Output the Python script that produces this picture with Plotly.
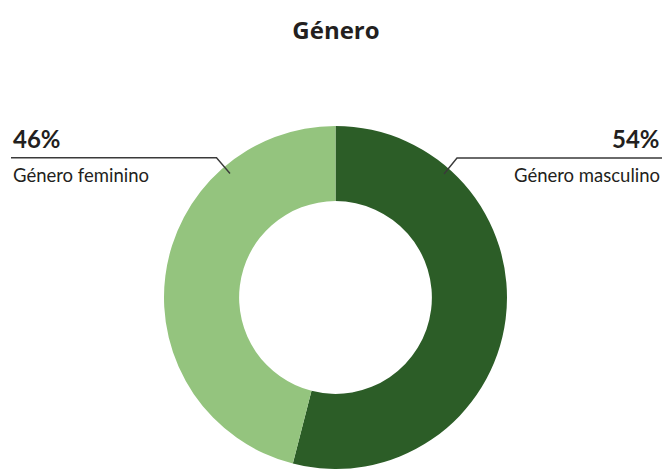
import plotly.graph_objects as go

# Gender split of respondents
categories = ["Género masculino", "Género feminino"]
shares = [54, 46]
colors = ["#2c5d27", "#94c47e"]
title_text = "Género"

W, H = 667, 469


def px(x):
    return x / W


def py(y):
    return (H - y) / H


cx, r = 335.5, 171.5
top = 126

fig = go.Figure(
    go.Pie(
        labels=categories,
        values=shares,
        sort=False,
        direction="clockwise",
        rotation=0,
        hole=0.562,
        marker=dict(colors=colors, line=dict(width=0)),
        textinfo="none",
        hoverinfo="label+percent",
        showlegend=False,
        domain=dict(x=[px(cx - r), px(cx + r)], y=[0, py(top)]),
    )
)

label_font = "Lato, sans-serif"
line_col = "#3a3a3a"

# Leader lines: horizontal rule under the percentage, elbow into the ring
fig.add_shape(type="path", xref="paper", yref="paper",
              path=f"M {px(11)},{py(157.7)} L {px(216.5)},{py(157.7)} L {px(230)},{py(173.5)}",
              line=dict(color=line_col, width=1.4))
fig.add_shape(type="path", xref="paper", yref="paper",
              path=f"M {px(662)},{py(158)} L {px(457)},{py(158)} L {px(444)},{py(174)}",
              line=dict(color=line_col, width=1.4))

# Percentage + category labels for each slice
sides = [
    dict(x=662, anchor="right"),  # masculino on the right
    dict(x=11, anchor="left"),    # feminino on the left
]
for cat, val, side in zip(categories, shares, sides):
    fig.add_annotation(x=px(side["x"]), y=py(138), xref="paper", yref="paper",
                       text=f"<b>{val}%</b>", showarrow=False,
                       xanchor=side["anchor"], yanchor="middle",
                       font=dict(family=label_font, size=24, color="#231f20"))
    fig.add_annotation(x=px(side["x"]), y=py(175), xref="paper", yref="paper",
                       text=cat, showarrow=False,
                       xanchor=side["anchor"], yanchor="middle",
                       font=dict(family=label_font, size=18.5, color="#231f20"))

fig.update_layout(
    width=W, height=H,
    margin=dict(l=0, r=0, t=0, b=0),
    paper_bgcolor="white", plot_bgcolor="white",
    title=dict(text=f"<b>{title_text}</b>", x=px(336), xanchor="center",
               y=py(31), yanchor="middle",
               font=dict(family="Open Sans, sans-serif", size=24, color="#231f20")),
)

fig.write_html("out.html")
